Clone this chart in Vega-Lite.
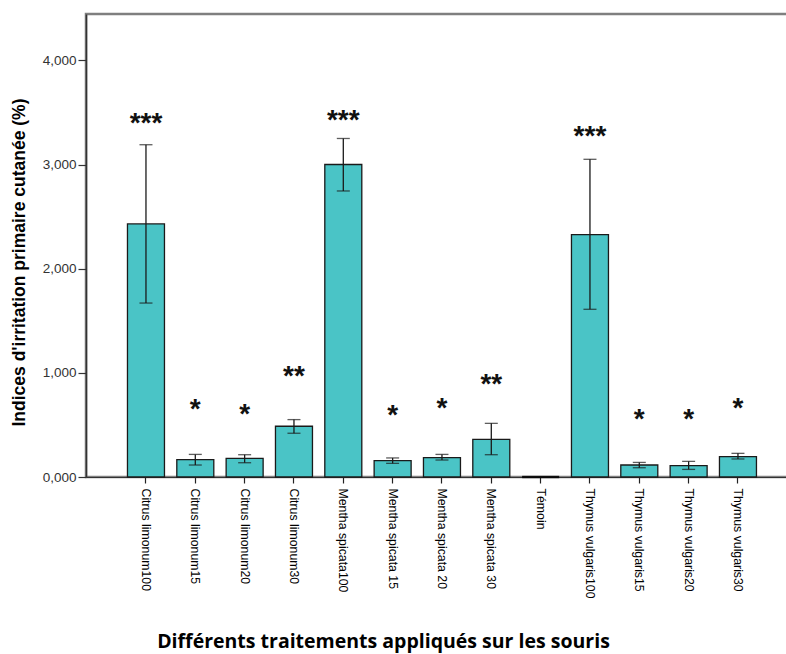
{
  "$schema": "https://vega.github.io/schema/vega-lite/v6.json",
  "autosize": {"type": "none"},
  "padding": {"left": 86, "top": 14, "right": 0, "bottom": 177},
  "width": 702,
  "height": 463,
  "background": "white",
  "config": {
    "view": {"stroke": "#7f7f7f", "strokeWidth": 2.5},
    "axis": {"grid": false}
  },
  "data": {
    "values": [
      {"name": "Citrus limonum100", "mean": 2.43, "lo": 1.67, "hi": 3.19, "sig": "***", "sy": 3.43},
      {"name": "Citrus limonum15", "mean": 0.166, "lo": 0.115, "hi": 0.217, "sig": "*", "sy": 0.68},
      {"name": "Citrus limonum20", "mean": 0.179, "lo": 0.137, "hi": 0.214, "sig": "*", "sy": 0.63},
      {"name": "Citrus limonum30", "mean": 0.487, "lo": 0.42, "hi": 0.551, "sig": "**", "sy": 1.0},
      {"name": "Mentha spicata100", "mean": 3.0, "lo": 2.746, "hi": 3.25, "sig": "***", "sy": 3.46},
      {"name": "Mentha spicata 15", "mean": 0.157, "lo": 0.131, "hi": 0.183, "sig": "*", "sy": 0.62},
      {"name": "Mentha spicata 20", "mean": 0.186, "lo": 0.163, "hi": 0.217, "sig": "*", "sy": 0.69},
      {"name": "Mentha spicata 30", "mean": 0.362, "lo": 0.214, "hi": 0.515, "sig": "**", "sy": 0.92},
      {"name": "Témoin", "mean": 0, "lo": null, "hi": null, "sig": "", "sy": null},
      {"name": "Thymus vulgaris100", "mean": 2.327, "lo": 1.61, "hi": 3.05, "sig": "***", "sy": 3.3},
      {"name": "Thymus vulgaris15", "mean": 0.115, "lo": 0.089, "hi": 0.14, "sig": "*", "sy": 0.59},
      {"name": "Thymus vulgaris20", "mean": 0.109, "lo": 0.073, "hi": 0.15, "sig": "*", "sy": 0.59},
      {"name": "Thymus vulgaris30", "mean": 0.195, "lo": 0.173, "hi": 0.227, "sig": "*", "sy": 0.69}
    ]
  },
  "encoding": {
    "x": {
      "field": "name",
      "type": "nominal",
      "sort": null,
      "scale": {"paddingInner": 0.25, "paddingOuter": 0.74, "align": 0.568},
      "axis": {
        "title": "Différents traitements appliqués sur les souris",
        "titleFont": "Open Sans",
        "titleFontSize": 19.5,
        "titleFontWeight": "bold",
        "titleColor": "#000000",
        "titleX": 297,
        "titleY": 170,
        "titleBaseline": "alphabetic",
        "titleAnchor": "middle",
        "labelAngle": 90,
        "labelAlign": "left",
        "labelBaseline": "middle",
        "labelFont": "Liberation Sans",
        "labelFontSize": 12.3,
        "labelColor": "#000000",
        "labelPadding": 5,
        "labelLimit": 200,
        "tickSize": 6,
        "tickColor": "#222222",
        "tickWidth": 1.2,
        "domainColor": "#333333",
        "domainWidth": 1.2
      }
    }
  },
  "layer": [
    {
      "mark": {"type": "bar", "fill": "#4ac4c6", "stroke": "#1a1a1a", "strokeWidth": 1.3},
      "encoding": {
        "y": {
          "field": "mean",
          "type": "quantitative",
          "scale": {"domain": [0, 4.445], "nice": false, "zero": true},
          "axis": {
            "title": "Indices d'irritation primaire cutanée (%)",
            "titleFont": "Liberation Sans",
            "titleFontSize": 17.5,
            "titleFontWeight": "bold",
            "titleColor": "#000000",
            "titleY": 248,
            "titlePadding": 14,
            "values": [0, 1, 2, 3, 4],
            "labelExpr": "replace(format(datum.value, '.3f'), '.', ',')",
            "labelFont": "Liberation Sans",
            "labelFontSize": 13.5,
            "labelColor": "#333333",
            "labelPadding": 2,
            "tickSize": 8,
            "tickColor": "#333333",
            "tickWidth": 1.2,
            "domainColor": "#333333",
            "domainWidth": 1.5
          }
        }
      }
    },
    {
      "transform": [{"filter": "datum.mean == 0"}],
      "mark": {"type": "tick", "color": "#000000", "size": 37, "thickness": 2.5},
      "encoding": {"y": {"field": "mean", "type": "quantitative"}}
    },
    {
      "transform": [{"filter": "isValid(datum.lo)"}],
      "mark": {"type": "rule", "color": "#1a1a1a", "strokeWidth": 1.3},
      "encoding": {
        "y": {"field": "lo", "type": "quantitative"},
        "y2": {"field": "hi"}
      }
    },
    {
      "transform": [{"filter": "isValid(datum.lo)"}],
      "mark": {"type": "tick", "color": "#1a1a1a", "size": 13, "thickness": 1.3},
      "encoding": {"y": {"field": "lo", "type": "quantitative"}}
    },
    {
      "transform": [{"filter": "isValid(datum.hi)"}],
      "mark": {"type": "tick", "color": "#1a1a1a", "size": 13, "thickness": 1.3},
      "encoding": {"y": {"field": "hi", "type": "quantitative"}}
    },
    {
      "transform": [{"filter": "isValid(datum.sy)"}],
      "mark": {"type": "text", "font": "Liberation Sans", "fontSize": 28, "fontWeight": "bold", "color": "#111111", "baseline": "middle", "dy": 4},
      "encoding": {
        "y": {"field": "sy", "type": "quantitative"},
        "text": {"field": "sig"}
      }
    }
  ]
}
